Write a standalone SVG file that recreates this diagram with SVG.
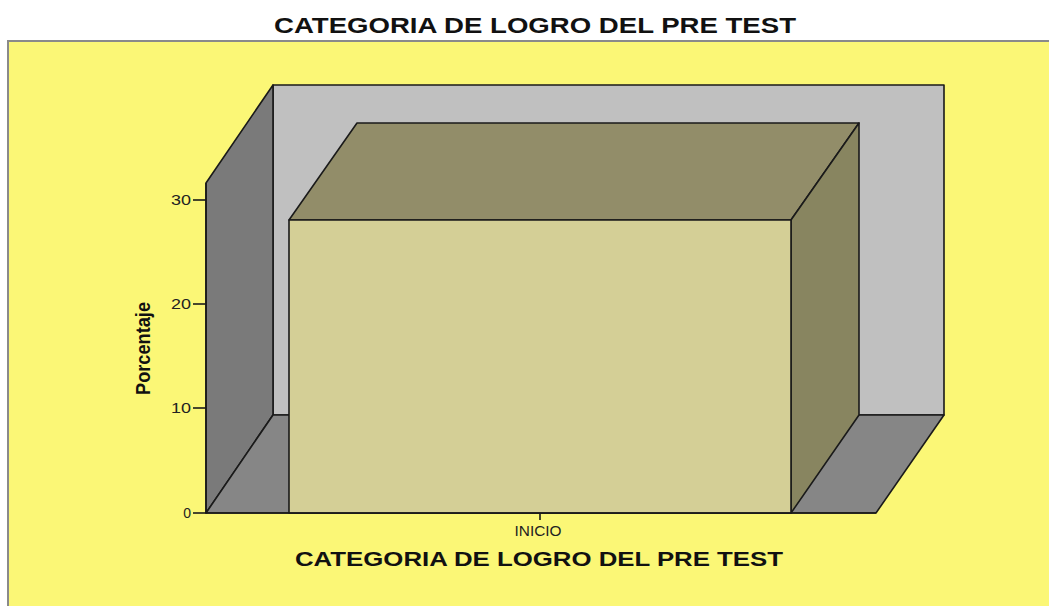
<svg xmlns="http://www.w3.org/2000/svg" width="1049" height="606" viewBox="0 0 1049 606">
<style>
.edge{stroke:#1a1a1a;stroke-width:1.6;stroke-linejoin:round}
.ax{stroke:#1a1a1a;stroke-width:1.6;fill:none}
.t{font-family:"Liberation Sans",Arial,sans-serif;font-weight:bold;fill:#111}
.n{font-family:"Liberation Sans",Arial,sans-serif;fill:#222;font-size:14px}
</style>
<rect x="0" y="0" width="1049" height="606" fill="#ffffff"/>
<rect id="panel" x="8" y="41" width="1100" height="600" fill="#FBF776" stroke="#8a8a8a" stroke-width="2"/>
<text id="title" class="t" x="535" y="33" font-size="22" text-anchor="middle" textLength="522" lengthAdjust="spacingAndGlyphs">CATEGORIA DE LOGRO DEL PRE TEST</text>
<g id="frame">
<rect id="backwall" class="edge" x="273" y="85" width="671" height="330" fill="#C0C0C0"/>
<polygon id="leftwall" class="edge" points="206,183 273,85 273,415 206,513" fill="#7A7A7A"/>
<polygon id="floor" class="edge" points="206,513 273,415 944,415 876,513" fill="#868686"/>
</g>
<g id="bar-inicio">
<polygon class="edge" points="289,220 357,123 859,123 791,220" fill="#928D69"/>
<polygon class="edge" points="791,220 859,123 859,415 791,513" fill="#888560"/>
<rect class="edge" x="289" y="220" width="502" height="293" fill="#D4CF96"/>
</g>
<g id="axes">
<line class="ax" x1="206" y1="183" x2="206" y2="513"/>
<line class="ax" x1="206" y1="513" x2="876" y2="513"/>
<line class="ax" x1="193" y1="200" x2="206" y2="200"/>
<line class="ax" x1="193" y1="304" x2="206" y2="304"/>
<line class="ax" x1="193" y1="408" x2="206" y2="408"/>
<line class="ax" x1="193" y1="513" x2="206" y2="513"/>
<line class="ax" x1="540" y1="513" x2="540" y2="520"/>
<text class="n" x="191" y="205" text-anchor="end" textLength="20" lengthAdjust="spacingAndGlyphs">30</text>
<text class="n" x="191" y="309" text-anchor="end" textLength="20" lengthAdjust="spacingAndGlyphs">20</text>
<text class="n" x="191" y="413" text-anchor="end" textLength="20" lengthAdjust="spacingAndGlyphs">10</text>
<text class="n" x="191" y="518" text-anchor="end">0</text>
<text class="n" x="538" y="536" font-size="13" text-anchor="middle" textLength="47" lengthAdjust="spacingAndGlyphs">INICIO</text>
</g>
<text id="ytitle" class="t" font-size="20" text-anchor="middle" transform="translate(150,348.5) rotate(-90)" textLength="93" lengthAdjust="spacingAndGlyphs">Porcentaje</text>
<text id="xtitle" class="t" x="539" y="566" font-size="19.5" text-anchor="middle" textLength="488" lengthAdjust="spacingAndGlyphs">CATEGORIA DE LOGRO DEL PRE TEST</text>
</svg>
